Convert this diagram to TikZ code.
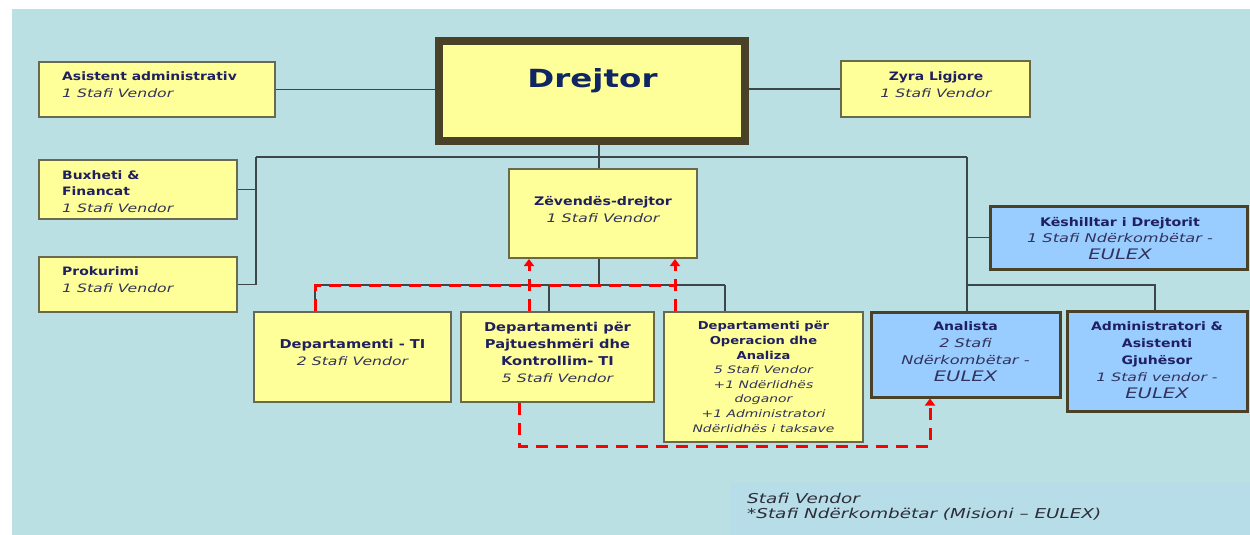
\documentclass[tikz,border=0pt]{standalone}
\usepackage{fontspec}
\setmainfont{DejaVu Sans}[FakeStretch=1.2]
\newfontfamily\itfam{DejaVu Sans}[FakeStretch=1.35]
\newfontfamily\bigfam{DejaVu Sans}[FakeStretch=1.3]
\usetikzlibrary{arrows.meta}
\definecolor{bgc}{RGB}{187,224,227}
\definecolor{legc}{RGB}{182,221,232}
\definecolor{yfill}{RGB}{255,255,153}
\definecolor{yline}{RGB}{105,105,80}
\definecolor{bfill}{RGB}{153,204,255}
\definecolor{bline}{RGB}{74,66,40}
\definecolor{lncol}{RGB}{60,70,75}
\definecolor{tnavy}{RGB}{32,32,96}
\definecolor{titc}{RGB}{50,50,90}
\definecolor{dnavy}{RGB}{16,38,98}
\definecolor{legt}{RGB}{45,45,55}
\newcommand\bl[1]{{\bfseries\color{tnavy}#1}}
\newcommand\il[1]{{\itfam\itshape\color{titc}#1}}
\tikzset{
  ybox/.style={draw=yline, fill=yfill, line width=2pt, inner sep=0pt},
  bbox/.style={draw=bline, fill=bfill, line width=3pt, inner sep=0pt},
  dbox/.style={draw=bline, fill=yfill, line width=8pt, inner sep=0pt},
  conn/.style={draw=lncol, line width=1.3pt},
  rdash/.style={draw=red, line width=3pt, dash pattern=on 12pt off 8pt},
  rarrow/.style={rdash, -{Triangle[width=10pt,length=7pt,fill=red]}},
  tl/.style={anchor=base west, align=left, inner sep=0pt},
  tc/.style={anchor=base, align=center, inner sep=0pt},
}
\begin{document}
\begin{tikzpicture}[x=1pt,y=-1pt]
\useasboundingbox (0,0) rectangle (1250,535);
\fill[white] (0,0) rectangle (1250,535);
\fill[bgc] (12,9) rectangle (1250,535);
\fill[legc] (730,483) rectangle (1250,535);

% boxes
\node[dbox, minimum width=306pt, minimum height=100pt] (drejtor) at (592,91) {};
\node[ybox, minimum width=236pt, minimum height=55pt] (asist) at (157,89.5) {};
\node[ybox, minimum width=189pt, minimum height=56pt] (zyra) at (935.5,89) {};
\node[ybox, minimum width=198pt, minimum height=59pt] (bux) at (138,189.5) {};
\node[ybox, minimum width=198pt, minimum height=55pt] (prok) at (138,284.5) {};
\node[ybox, minimum width=188pt, minimum height=89pt] (zev) at (603,213.5) {};
\node[bbox, minimum width=257pt, minimum height=63pt] (kesh) at (1118.5,237.5) {};
\node[ybox, minimum width=197pt, minimum height=90pt] (ti) at (352.5,357) {};
\node[ybox, minimum width=193pt, minimum height=90pt] (pajt) at (557.5,357) {};
\node[ybox, minimum width=199pt, minimum height=130pt] (oper) at (763.5,377) {};
\node[bbox, minimum width=189pt, minimum height=85pt] (anal) at (965.5,354.5) {};
\node[bbox, minimum width=180pt, minimum height=100pt] (admin) at (1157,361) {};

% connector coordinates
\coordinate (lt) at (256,157);
\coordinate (rt) at (967,157);
\coordinate (mx) at (599,157);
\coordinate (low) at (599,285);
\coordinate (lowl) at (315,285);
\coordinate (lowr) at (725,285);
\coordinate (pj) at (549,285);
\coordinate (ar) at (1155,285);

% black connectors
\draw[conn] (asist.east) -- (asist.east -| drejtor.west);
\draw[conn] (zyra.west -| drejtor.east) -- (zyra.west);
\draw[conn] (mx |- drejtor.south) -- (mx |- zev.north);
\draw[conn] (lt) -- (rt);
\draw[conn] (lt) |- (prok.east);
\draw[conn] (bux.east) -- (lt |- bux.east);
\draw[conn] (rt) -- (rt |- anal.north);
\draw[conn] (rt |- kesh.west) -- (kesh.west);
\draw[conn] (rt |- ar) -| (admin.north -| ar);
\draw[conn] (mx |- zev.south) -- (low);
\draw[conn] (lowl) -- (lowr);
\draw[conn] (lowl) -- (lowl |- ti.north);
\draw[conn] (pj) -- (pj |- pajt.north);
\draw[conn] (lowr) -- (lowr |- oper.north);

% red dashed connectors
\coordinate (ra) at (529,0);
\coordinate (rb) at (675,0);
\coordinate (rc) at (519,0);
\coordinate (rd) at (930,446);
\draw[rdash] (lowl |- ti.north) -- (lowl) -- (rb |- lowl);
\draw[rarrow] (ra |- pajt.north) -- (ra |- zev.south);
\draw[rarrow] (rb |- oper.north) -- (rb |- zev.south);
\draw[rarrow] (rc |- pajt.south) -- (rc |- rd) -- (rd) -- (rd |- anal.south);

% texts (anchor = baseline of the last line)
\node[tc, font=\bigfam\bfseries\fontsize{25}{30}\selectfont, text=dnavy] (tdre) at (592.5,88) {Drejtor};
\node[tl, font=\fontsize{11.6}{17}\selectfont] (tasi) at (62,97) {\bl{Asistent administrativ}\\\il{1 Stafi Vendor}};
\node[tc, font=\fontsize{11.6}{17}\selectfont] (tzyr) at (936,97) {\bl{Zyra Ligjore}\\\il{1 Stafi Vendor}};
\node[tl, font=\fontsize{11.6}{16.5}\selectfont] (tbux) at (62,212) {\bl{Buxheti \&}\\\bl{Financat}\\\il{1 Stafi Vendor}};
\node[tl, font=\fontsize{11.6}{17}\selectfont] (tpro) at (62,292) {\bl{Prokurimi}\\\il{1 Stafi Vendor}};
\node[tc, font=\fontsize{11.8}{17}\selectfont] (tzev) at (603,222) {\bl{Zëvendës-drejtor}\\\il{1 Stafi Vendor}};
\node[tc, font=\fontsize{11.8}{16.5}\selectfont] (tkes) at (1120,259) {\bl{Këshilltar i Drejtorit}\\\il{\fontsize{12}{16.5}\selectfont 1 Stafi Ndërkombëtar -}\\\il{\fontsize{14.5}{16.5}\selectfont EULEX}};
\node[tc, font=\fontsize{12.2}{17}\selectfont] (tti) at (352.5,365) {\bl{Departamenti - TI}\\\il{\fontsize{11.6}{17}\selectfont 2 Stafi Vendor}};
\node[tc, font=\fontsize{12.2}{17}\selectfont] (tpaj) at (557.5,382) {\bl{Departamenti për}\\\bl{Pajtueshmëri dhe}\\\bl{Kontrollim- TI}\\\il{\fontsize{11.6}{17}\selectfont 5 Stafi Vendor}};
\node[tc, font=\fontsize{10.9}{14.6}\selectfont] (tope) at (763.5,432) {\bl{Departamenti për}\\\bl{Operacion dhe}\\\bl{Analiza}\\\il{\fontsize{10.3}{14.6}\selectfont 5 Stafi Vendor}\\\il{\fontsize{10.3}{14.6}\selectfont +1 Ndërlidhës}\\\il{\fontsize{10.3}{14.6}\selectfont doganor}\\\il{\fontsize{10.3}{14.6}\selectfont +1 Administratori}\\\il{\fontsize{10.3}{14.6}\selectfont Ndërlidhës i taksave}};
\node[tc, font=\fontsize{11.7}{17}\selectfont] (tana) at (965.5,381) {\bl{Analista}\\\il{\fontsize{12}{17}\selectfont 2 Stafi}\\\il{\fontsize{12}{17}\selectfont Ndërkombëtar -}\\\il{\fontsize{14.5}{17}\selectfont EULEX}};
\node[tc, font=\fontsize{11.7}{17}\selectfont] (tadm) at (1157,398) {\bl{Administratori \&}\\\bl{Asistenti}\\\bl{Gjuhësor}\\\il{\fontsize{11.6}{17}\selectfont 1 Stafi vendor -}\\\il{\fontsize{14.5}{16.5}\selectfont EULEX}};
\node[tl, font=\itfam\itshape\fontsize{13.6}{15.5}\selectfont, text=legt] (tleg) at (747,518.5) {Stafi Vendor\\*Stafi Ndërkombëtar (Misioni – EULEX)};
\end{tikzpicture}
\end{document}
